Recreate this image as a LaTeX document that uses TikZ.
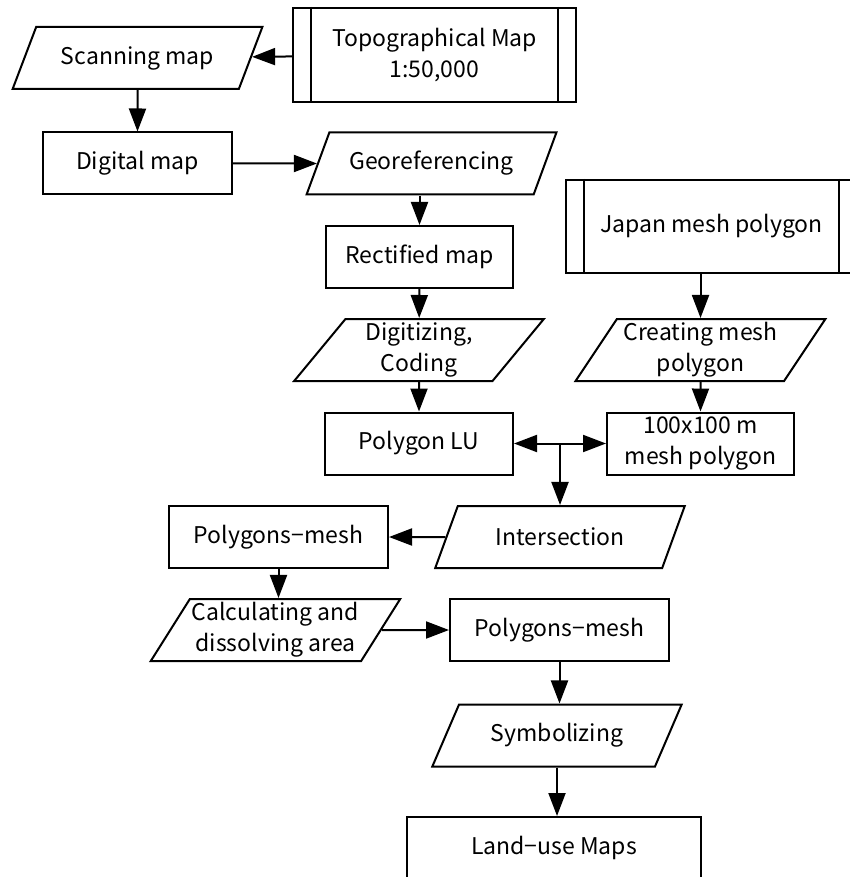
\documentclass[tikz,border=0pt]{standalone}
\usepackage{fontspec}
\setmainfont{Noto Sans CJK JP}
\usetikzlibrary{arrows.meta, shapes.geometric}

\tikzset{
  proc/.style={draw, rectangle, minimum height=62pt, inner sep=2pt, align=center},
  io/.style={draw, trapezium, trapezium left angle=56.5, trapezium right angle=123.5,
    trapezium stretches=true, minimum width=250pt, minimum height=62pt, inner sep=2pt, align=center},
  subproc/.style={draw, rectangle, minimum height=94pt, inner sep=2pt, align=center}
}

\begin{document}
\begin{tikzpicture}[x=1pt, y=-1pt, >={Triangle[length=23pt 0 0,width=17pt 0 0]}, line width=2pt,
  font=\fontsize{23}{31}\selectfont]
\useasboundingbox (0,0) rectangle (850,877);
\clip (0,0) rectangle (850,877);

% inputs
\node[subproc, minimum width=283pt] (topo) at (434.5,55) {Topographical Map\\1:50,000};
\node[subproc, minimum width=291pt, minimum height=93pt] (japan) at (711.5,226.5) {Japan mesh polygon};
\foreach \n in {topo, japan} {
  \draw ([xshift=19pt]\n.north west) -- ([xshift=19pt]\n.south west);
  \draw ([xshift=-19pt]\n.north east) -- ([xshift=-19pt]\n.south east);
}

% left branch
\node[io] (scan) at (137.5,58) {Scanning map};
\node[proc, minimum width=189pt] (dig) at (137.5,163.5) {Digital map};
\node[io] (geo) at (431.5,163.5) {Georeferencing};
\node[proc, minimum width=187pt] (rect) at (419.5,257) {Rectified map};
\node[io] (digi) at (419,350) {Digitizing,\\Coding};
\node[proc, minimum width=188pt] (plu) at (419,443.5) {Polygon LU};

% right branch
\node[io] (crt) at (700.5,350) {Creating mesh\\polygon};
\node[proc, minimum width=187pt] (mesh) at (700.5,443.5) {100x100 m\\mesh polygon};

% lower part
\node[io] (isect) at (560,537) {Intersection};
\node[proc, minimum width=219pt] (pm1) at (278.5,537) {Polygons−mesh};
\node[io] (calc) at (275.5,630) {Calculating and\\dissolving area};
\node[proc, minimum width=219pt] (pm2) at (559.5,630) {Polygons−mesh};
\node[io] (sym) at (557,735.5) {Symbolizing};
\node[proc, minimum width=294pt] (land) at (554,848) {Land−use Maps};

\draw[->] (topo) -- (scan);
\draw[->] (scan) -- (dig);
\draw[->] (dig) -- (geo);
\draw[->] (geo.south -| rect.north) -- (rect.north);
\draw[->] (rect) -- (digi);
\draw[->] (digi) -- (plu);
\draw[->] (japan.south -| crt.north) -- (crt.north);
\draw[->] (crt) -- (mesh);
\draw[<->] (plu) -- (mesh);
\draw[->] (plu.east -| isect.north) -- (isect.north);
\draw[->] (isect) -- (pm1);
\draw[->] (pm1.south) -- (pm1.south |- calc.north);
\draw[->] (calc) -- (pm2);
\draw[->] (pm2.south) -- (pm2.south |- sym.north);
\draw[->] (sym.south) -- (sym.south |- land.north);
\end{tikzpicture}
\end{document}
